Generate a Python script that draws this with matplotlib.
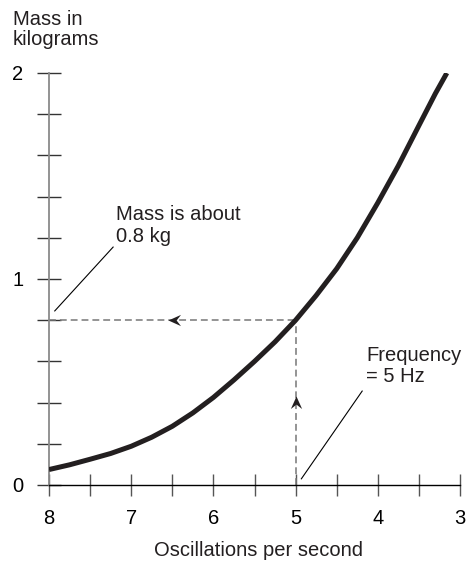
import numpy as np
import matplotlib
matplotlib.use("Agg")
from matplotlib import pyplot as plt
from matplotlib.path import Path
from matplotlib.ticker import MultipleLocator

plt.rcParams["font.family"] = ["Liberation Sans", "DejaVu Sans"]

# curva (oscilaciones por segundo vs masa en kg)
frecuencia = [8.0, 7.75, 7.5, 7.25, 7.0, 6.75, 6.5, 6.25, 6.0, 5.75, 5.5,
              5.25, 5.0, 4.75, 4.5, 4.25, 4.0, 3.75, 3.5, 3.3, 3.16]
masa = [0.075, 0.098, 0.125, 0.153, 0.188, 0.232, 0.285, 0.35, 0.425, 0.51, 0.60,
        0.695, 0.80, 0.92, 1.05, 1.20, 1.37, 1.55, 1.745, 1.90, 2.0]

# lectura marcada con lineas de trazos
f_leida = 5.0
m_leida = 0.8
flecha_h_x = 6.55
flecha_v_y = 0.43

x_ticks = [8, 7, 6, 5, 4, 3]
y_ticks = [0, 1, 2]

# lineas guia de las anotaciones
guia_masa_x = [7.93, 7.22]
guia_masa_y = [0.845, 1.155]
guia_frec_x = [4.93, 4.19]
guia_frec_y = [0.03, 0.456]

FS = 14.5
GRIS = "#8a8a8a"
NEGRO = "#231f20"

fig = plt.figure(figsize=(4.66, 5.63), dpi=100)
ax = fig.add_axes([49 / 466, 78 / 563, 411 / 466, 412 / 563])

ax.set_xlim(8, 3)
ax.set_ylim(0, 2)

# ejes tipo "cruz"
for s in ["top", "right"]:
    ax.spines[s].set_visible(False)
ax.spines["left"].set_color(GRIS)
ax.spines["left"].set_linewidth(1.3)
ax.spines["bottom"].set_color("black")
ax.spines["bottom"].set_linewidth(1.0)

ax.set_xticks(x_ticks)
ax.set_xticklabels([str(t) for t in x_ticks])
ax.xaxis.set_minor_locator(MultipleLocator(0.5))
ax.set_yticks(y_ticks)
ax.set_yticklabels([str(t) for t in y_ticks])
ax.yaxis.set_minor_locator(MultipleLocator(0.2))

ax.tick_params(axis="x", which="both", direction="inout", length=16, width=1.0,
               color="#555555", labelsize=FS, pad=9)
ax.tick_params(axis="y", which="both", direction="inout", length=17, width=1.0,
               color="#333333", labelsize=FS, pad=10)

# lineas de trazos
ax.plot([f_leida, f_leida], [0, m_leida], color="#777777", lw=1.1,
        dashes=(4.5, 2.6), zorder=2)
ax.plot([8, f_leida], [m_leida, m_leida], color="#777777", lw=1.1,
        dashes=(4.5, 2.6), zorder=2)

# puntas de flecha
punta_izq = Path([(0, 0), (1, 0.45), (0.65, 0), (1, -0.45), (0, 0)],
                 [Path.MOVETO, Path.LINETO, Path.LINETO, Path.LINETO, Path.CLOSEPOLY])
punta_arr = Path([(0, 0), (0.45, -1), (0, -0.65), (-0.45, -1), (0, 0)],
                 [Path.MOVETO, Path.LINETO, Path.LINETO, Path.LINETO, Path.CLOSEPOLY])
ax.plot([flecha_h_x], [m_leida], marker=punta_izq, ms=18, color=NEGRO,
        mec=NEGRO, mew=0, zorder=4)
ax.plot([f_leida], [flecha_v_y], marker=punta_arr, ms=18, color=NEGRO,
        mec=NEGRO, mew=0, zorder=4)

# curva principal
ax.plot(frecuencia, masa, color=NEGRO, lw=3.6, solid_capstyle="butt",
        solid_joinstyle="round", zorder=3)

# anotaciones
ax.plot(guia_masa_x, guia_masa_y, color="black", lw=0.8)
ax.plot(guia_frec_x, guia_frec_y, color="black", lw=0.8)
ax.text(7.185, 1.26, "Mass is about\n0.8 kg", fontsize=FS, ha="left",
        va="center", linespacing=1.2, color=NEGRO)
ax.text(4.143, 0.578, "Frequency\n= 5 Hz", fontsize=FS, ha="left",
        va="center", linespacing=1.12, color=NEGRO)

fig.text(13 / 466, 1 - 10 / 563, "Mass in\nkilograms", fontsize=FS, ha="left",
         va="top", linespacing=1.08, color=NEGRO)
fig.text(258 / 466, 12 / 563, "Oscillations per second", fontsize=FS,
         ha="center", va="center", color=NEGRO)

fig.savefig("out.png", dpi=100)
